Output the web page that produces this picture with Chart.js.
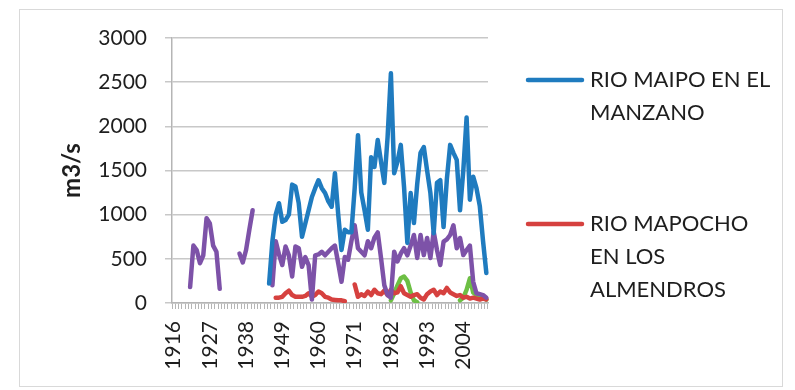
<!DOCTYPE html>
<html>
<head>
<meta charset="utf-8">
<script src="https://cdn.jsdelivr.net/npm/chart.js@4.4.1/dist/chart.umd.min.js"></script>
<style>
  html, body { margin: 0; padding: 0; background: #fff; }
  #wrap { position: relative; width: 795px; height: 390px; }
</style>
</head>
<body>
<div id="wrap"><canvas id="chart"></canvas></div>
<script>
// categorías (años)
const years = [
  1916, 1917, 1918, 1919, 1920, 1921, 1922, 1923, 1924, 1925,
  1926, 1927, 1928, 1929, 1930, 1931, 1932, 1933, 1934, 1935,
  1936, 1937, 1938, 1939, 1940, 1941, 1942, 1943, 1944, 1945,
  1946, 1947, 1948, 1949, 1950, 1951, 1952, 1953, 1954, 1955,
  1956, 1957, 1958, 1959, 1960, 1961, 1962, 1963, 1964, 1965,
  1966, 1967, 1968, 1969, 1970, 1971, 1972, 1973, 1974, 1975,
  1976, 1977, 1978, 1979, 1980, 1981, 1982, 1983, 1984, 1985,
  1986, 1987, 1988, 1989, 1990, 1991, 1992, 1993, 1994, 1995,
  1996, 1997, 1998, 1999, 2000, 2001, 2002, 2003, 2004, 2005,
  2006, 2007, 2008, 2009, 2010, 2011
];
const xLabelStep = 11;
const yMax = 3000;
const yStep = 500;

// RIO MAIPO EN EL MANZANO, desde 1945
const maipoStart = 1945;
const maipo = [
  220, 700, 1000, 1130, 920, 940, 1000, 1340, 1320, 1130,
  750, 900, 1050, 1200, 1300, 1390, 1300, 1245, 1150, 1090,
  1470, 1000, 600, 830, 800, 800, 1300, 1900, 1250, 1050,
  830, 1650, 1540, 1845, 1600, 1360, 1880, 2600, 1470, 1600,
  1790, 1310, 680, 1245, 905, 1350, 1700, 1766, 1500, 1245,
  790, 1360, 1390, 860, 1400, 1790, 1700, 1620, 1050, 1500,
  2100, 1170, 1430, 1300, 1100, 700, 340
];

// RIO MAPOCHO EN LOS ALMENDROS, desde 1947
const mapochoStart = 1947;
const mapocho = [
  60, 60, 70, 110, 140, 90, 70, 70,
  70, 80, 110, 70, 90, 130, 110, 70, 60, 40,
  35, 30, 30, 20, null, null, 210, 70, 100, 80,
  130, 90, 150, 110, 100, 140, 90, 150, 110, 120,
  190, 110, 90, 70, 90, 100, 60, 40, 100, 130,
  150, 90, 130, 110, 170, 120, 100, 80, 90, 60,
  70, 50, 60, 50, 40, 50, 40
];

// serie morada (fuera de la leyenda), desde 1921
const serie3Start = 1921;
const serie3 = [
  180, 650, 600, 450, 540, 960, 900, 650, 580, 160,
  null, null, null, null, null,
  560, 460, 600, 830, 1050,
  null, null, null, null, null,
  200, 700, 550, 430, 640, 540, 300, 640, 620, 410,
  520, 430, 40, 540, 550, 580, 540, 580, 620, 650,
  450, 240, 520, 490, 700, 880, 620, 580, 540, 700,
  620, 740, 800, 510, 200, 90, 60, 580, 470, 560,
  620, 540, 650, 770, 510, 770, 543, 736, 510, 807,
  600, 430, 694, 720, 770, 880, 620, 736, 543, 600,
  650, 240, 110, 100, 90, 60
];

// serie verde (fuera de la leyenda), desde 1982
const serie4Start = 1982;
const serie4 = [
  30, 110, 200, 280, 300, 250, 120, 30, 10, null,
  null, null, null, null, null, null, null, null, null, null,
  null, 30, 60, 150, 280, 120, 90, 80, 70, 40
];

// leyenda lateral (texto en varias líneas)
const legendMaipo = ['RIO MAIPO EN EL', 'MANZANO'];
const legendMapocho = ['RIO MAPOCHO', 'EN LOS', 'ALMENDROS'];

function fillYears(start, values) {
  return years.map(y => {
    const i = y - start;
    return (i >= 0 && i < values.length) ? values[i] : null;
  });
}

const FONT = 'Lato, "Open Sans", sans-serif';
const TEXT = '#1e1e1e';
const AXIS = '#b5b5b5';

// borde exterior del gráfico
const frame = {
  id: 'frame',
  beforeDraw(chart) {
    const ctx = chart.ctx;
    ctx.save();
    ctx.strokeStyle = '#d9d9d9';
    ctx.lineWidth = 1;
    ctx.strokeRect(19.5, 9.5, 763, 377);
    ctx.restore();
  }
};

// leyenda a la derecha, solo dos entradas visibles
const sideLegend = {
  id: 'sideLegend',
  afterDraw(chart) {
    const ctx = chart.ctx;
    const entries = [
      { ds: 0, lines: legendMaipo, y: 80 },
      { ds: 2, lines: legendMapocho, y: 224 }
    ];
    ctx.save();
    ctx.font = '22px ' + FONT;
    ctx.fillStyle = TEXT;
    ctx.textBaseline = 'middle';
    ctx.textAlign = 'left';
    entries.forEach(e => {
      const ds = chart.data.datasets[e.ds];
      ctx.strokeStyle = ds.borderColor;
      ctx.lineWidth = 4.5;
      ctx.lineCap = 'round';
      ctx.beginPath();
      ctx.moveTo(528, e.y);
      ctx.lineTo(582, e.y);
      ctx.stroke();
      e.lines.forEach((t, j) => ctx.fillText(t, 590, e.y + j * 33));
    });
    ctx.restore();
  }
};

const ctx = document.getElementById('chart').getContext('2d');
const chart = new Chart(ctx, {
  type: 'line',
  data: {
    labels: years,
    datasets: [
      {
        label: legendMaipo.join(' '),
        data: fillYears(maipoStart, maipo),
        borderColor: '#1f7bbf',
        order: 0
      },
      {
        label: 'Serie 3',
        data: fillYears(serie3Start, serie3),
        borderColor: '#7d52a8',
        order: 1
      },
      {
        label: legendMapocho.join(' '),
        data: fillYears(mapochoStart, mapocho),
        borderColor: '#d6413f',
        order: 2
      },
      {
        label: 'Serie 4',
        data: fillYears(serie4Start, serie4),
        borderColor: '#6dbf44',
        order: 3
      }
    ]
  },
  options: {
    responsive: true,
    maintainAspectRatio: false,
    animation: false,
    datasets: {
      line: {
        borderWidth: 4.5,
        pointRadius: 0,
        tension: 0,
        spanGaps: false,
        borderJoinStyle: 'round',
        borderCapStyle: 'round'
      }
    },
    layout: { padding: { left: 20, right: 307, top: 38, bottom: 0 } },
    plugins: {
      legend: { display: false },
      tooltip: { enabled: false }
    },
    scales: {
      x: {
        type: 'category',
        offset: true,
        grid: {
          display: true,
          drawOnChartArea: false,
          drawTicks: true,
          tickLength: 6,
          color: AXIS,
          offset: true
        },
        border: { display: true, color: AXIS, width: 1.5 },
        ticks: {
          autoSkip: false,
          maxRotation: 90,
          minRotation: 90,
          padding: 12,
          color: TEXT,
          font: { family: FONT, size: 21 },
          callback: function(value, index) {
            return index % xLabelStep === 0 ? String(years[index]) : '';
          }
        },
        afterFit: function(scale) { scale.height = 87; }
      },
      y: {
        min: 0,
        max: yMax,
        grid: {
          color: '#c8c8c8',
          lineWidth: 1.5,
          drawTicks: true,
          tickLength: 7
        },
        border: { display: true, color: AXIS, width: 1.5 },
        ticks: {
          stepSize: yStep,
          padding: 18,
          color: TEXT,
          font: { family: FONT, size: 21 },
          callback: function(value) { return String(value); }
        },
        title: {
          display: true,
          text: 'm3/s',
          color: TEXT,
          font: { family: FONT, size: 24, weight: 'bold' },
          padding: { top: 38, bottom: 0 }
        },
        afterFit: function(scale) { scale.width = 152; }
      }
    }
  },
  plugins: [frame, sideLegend]
});
</script>
</body>
</html>
